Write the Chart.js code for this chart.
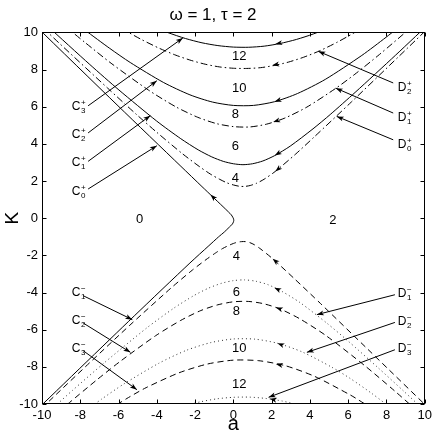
<!DOCTYPE html>
<html><head><meta charset="utf-8">
<script src="https://cdn.jsdelivr.net/npm/chart.js@4/dist/chart.umd.min.js"></script>
<style>html,body{margin:0;padding:0;background:#fff}</style>
</head><body>
<canvas id="c" width="436" height="436"></canvas>
<script>
// ---- tick labels ----
const xTickValues = [-10,-8,-6,-4,-2,0,2,4,6,8,10];
const yTickValues = [-10,-8,-6,-4,-2,0,2,4,6,8,10];

// ---- curves, [a, K] points ----
// solid (C+)
const curveC0 = [[-10.93,-10.97],[-5.18,-5.26],[-2.27,-2.41],[-1.28,-1.48],[-0.78,-1.01],[-0.47,-0.74],[-0.28,-0.55],[-0.14,-0.41],[-0.05,-0.31],[0,-0.21],[0.02,-0.13],[0.01,-0.04],[-0.03,0.05],[-0.11,0.18],[-0.26,0.34],[-0.54,0.62],[-1.09,1.16],[-1.64,1.70],[-2.74,2.79],[-6.03,6.05],[-10.39,10.41]];
const curveC1 = [[12.64,12.84],[10.57,10.81],[8.48,8.78],[6.36,6.77],[5.06,5.58],[4.16,4.81],[2.97,3.88],[2.16,3.37],[1.54,3.08],[1.00,2.93],[0.50,2.88],[0,2.93],[-0.53,3.06],[-1.13,3.30],[-1.84,3.68],[-2.75,4.28],[-4.01,5.23],[-5.98,6.90],[-7.50,8.27],[-9.72,10.35],[-11.66,12.19]];
const curveC2 = [[10.40,11.77],[9.60,11.09],[8.58,10.23],[7.98,9.74],[6.71,8.76],[4.80,7.47],[3.35,6.71],[2.15,6.27],[1.05,6.07],[0,6.07],[-1.09,6.25],[-2.27,6.64],[-3.66,7.31],[-5.39,8.38],[-6.46,9.14],[-7.75,10.12],[-8.67,10.85]];
const curveC3 = [[6.24,10.87],[5.17,10.33],[4.19,9.92],[3.29,9.62],[2.43,9.40],[1.61,9.26],[0.80,9.20],[0,9.21],[-0.81,9.29],[-1.64,9.44],[-2.50,9.67],[-3.42,9.99],[-4.40,10.40]];
// dash-dot (D+)
const curveD0 = [[-11.60,11.86],[-9.82,10.12],[-9.11,9.43],[-6.58,7.01],[-5.05,5.57],[-4.00,4.62],[-2.65,3.46],[-1.79,2.79],[-1.18,2.36],[-0.71,2.09],[-0.33,1.90],[0,1.79],[0.30,1.72],[0.59,1.71],[0.88,1.76],[1.21,1.88],[1.61,2.10],[2.19,2.52],[3.23,3.43],[4.22,4.37],[6.17,6.26],[8.64,8.70],[11.93,11.97]];
const curveD1 = [[-9.44,10.90],[-8.35,9.96],[-7.72,9.43],[-6.39,8.34],[-4.43,6.89],[-3.00,5.99],[-1.86,5.43],[-0.88,5.09],[0,4.93],[0.85,4.91],[1.73,5.06],[2.69,5.39],[3.84,5.98],[5.35,6.99],[6.35,7.75],[7.63,8.81],[9.35,10.32],[10.23,11.11]];
const curveD2 = [[-5.86,10.22],[-4.81,9.62],[-3.86,9.14],[-3.00,8.77],[-2.20,8.49],[-1.44,8.28],[-0.71,8.14],[0,8.07],[0.70,8.06],[1.41,8.10],[2.13,8.22],[2.87,8.40],[3.66,8.66],[4.51,9.01],[5.44,9.48],[6.48,10.08],[7.17,10.52]];
// dashed (C-)
const curveL1 = [[11.39,-11.41],[7.02,-7.05],[4.56,-4.60],[3.18,-3.25],[2.05,-2.18],[1.44,-1.67],[1.10,-1.43],[0.85,-1.31],[0.63,-1.26],[0.43,-1.26],[0.22,-1.29],[0,-1.36],[-0.25,-1.47],[-0.56,-1.63],[-0.93,-1.87],[-1.43,-2.23],[-2.14,-2.79],[-3.26,-3.76],[-5.40,-5.75],[-7.50,-7.77],[-9.58,-9.80],[-11.65,-11.83]];
const curveL2 = [[11.91,-12.52],[10.68,-11.37],[9.66,-10.42],[8.43,-9.30],[6.88,-7.95],[4.84,-6.32],[3.48,-5.42],[2.45,-4.89],[1.57,-4.60],[0.78,-4.48],[0,-4.50],[-0.81,-4.66],[-1.70,-4.97],[-2.75,-5.50],[-4.07,-6.33],[-5.88,-7.68],[-7.11,-8.68],[-8.70,-10.04],[-9.48,-10.73]];
const curveL3 = [[10.22,-12.48],[8.59,-11.21],[7.75,-10.60],[7.25,-10.25],[6.55,-9.79],[6.12,-9.52],[4.26,-8.52],[2.72,-7.94],[1.33,-7.67],[0,-7.64],[-1.36,-7.85],[-2.84,-8.32],[-4.56,-9.12],[-5.56,-9.70],[-6.70,-10.43]];
// dotted (D-)
const curveM1 = [[-10.90,-11.60],[-9.29,-10.09],[-8.42,-9.28],[-6.72,-7.76],[-4.52,-5.90],[-3.11,-4.84],[-2.09,-4.18],[-1.29,-3.76],[-0.61,-3.50],[0,-3.36],[0.58,-3.32],[1.16,-3.39],[1.79,-3.57],[2.52,-3.93],[3.48,-4.54],[4.91,-5.67],[5.98,-6.60],[7.54,-8.03],[8.89,-9.30],[10.08,-10.44]];
const curveM2 = [[-8.27,-10.79],[-7.41,-10.13],[-6.89,-9.74],[-5.75,-8.94],[-3.90,-7.81],[-2.43,-7.10],[-1.16,-6.69],[0,-6.50],[1.13,-6.51],[2.30,-6.73],[3.60,-7.20],[5.16,-8.03],[6.11,-8.63],[7.23,-9.43],[8.59,-10.49]];
const curveM3 = [[-4.60,-10.88],[-3.57,-10.44],[-2.62,-10.12],[-1.71,-9.88],[-0.85,-9.72],[0,-9.64],[0.84,-9.63],[1.68,-9.70],[2.55,-9.84],[3.45,-10.07],[4.39,-10.40]];

// ---- region labels: [text, a, K] ----
const regionLabels = [["0",-4.9,-0.05],["2",5.2,-0.12],
  ["12",0.3,8.69],["10",0.3,7.0],["8",0.1,5.57],["6",0.1,3.86],["4",0.1,2.16],
  ["4",0.15,-2.06],["6",0.15,-4.0],["8",0.15,-5.02],["10",0.3,-6.99],["12",0.3,-8.96]];

// ---- annotated arrows: [letter, sub, sup, labelA, labelK, startA, startK, endA, endK] ----
const arrowNotes = [
  ["C","3","+",-8.44,6.02,-7.59,6.05,-2.64,9.70],
  ["C","2","+",-8.44,4.49,-7.59,4.59,-4.00,7.40],
  ["C","1","+",-8.44,2.97,-7.59,3.06,-4.34,5.52],
  ["C","0","+",-8.44,1.44,-7.59,1.57,-4.00,3.90],
  ["C","1","\u2212",-8.44,-4.03,-7.85,-4.17,-5.28,-5.46],
  ["C","2","\u2212",-8.44,-5.52,-7.85,-5.64,-5.38,-7.22],
  ["C","3","\u2212",-8.44,-7.04,-7.85,-7.13,-5.04,-9.23],
  ["D","2","+",8.59,7.0,8.35,7.28,4.44,8.98],
  ["D","1","+",8.59,5.39,8.35,5.66,5.35,7.0],
  ["D","0","+",8.59,3.96,8.35,4.22,5.40,5.48],
  ["D","1","\u2212",8.59,-4.08,8.44,-4.12,4.36,-5.19],
  ["D","2","\u2212",8.59,-5.57,8.44,-5.61,3.84,-7.22],
  ["D","3","\u2212",8.59,-7.04,8.44,-7.08,1.84,-9.64]
];

// ---- direction heads on the curves: [tipA, tipK, fromA, fromK] ----
const flowHeads = [
  [2.19,9.38,2.9,9.52],[2.03,8.23,2.7,8.36],[2.15,6.27,2.8,6.5],[2.08,5.18,2.7,5.39],
  [2.16,3.37,2.97,3.88],[2.19,2.52,2.8,3.05],[-1.2,1.27,-0.8,0.87],
  [2.05,-2.18,2.7,-2.75],[2.14,-3.74,2.8,-4.08],[2.22,-4.81,2.9,-5.05],
  [2.3,-6.73,2.9,-6.97],[2.22,-7.85,2.9,-8.0],[1.9,-9.72,2.6,-9.88]
];

const SOLID = [], DASHDOT = [7,3,1.5,3], DASHED = [6,4], DOTTED = [1,3];
function ds(pts, dash, color){
  return {data: pts.map(p=>({x:p[0],y:p[1]})), showLine:true, pointRadius:0, borderColor: color||'#000',
    borderWidth:1, borderDash:dash, tension:0.25, fill:false};
}
const FONT = "'Liberation Sans', Arial, sans-serif";
const NFONT = "'Liberation Sans Narrow', 'Liberation Sans', Arial, sans-serif";

function headAt(ctx, x1,y1,x2,y2,len,hw){
  const ang=Math.atan2(y2-y1,x2-x1), c=Math.cos(ang), s=Math.sin(ang);
  ctx.beginPath(); ctx.moveTo(x2,y2);
  ctx.lineTo(x2-len*c+hw*s, y2-len*s-hw*c);
  ctx.lineTo(x2-len*c*0.75, y2-len*s*0.75);
  ctx.lineTo(x2-len*c-hw*s, y2-len*s+hw*c);
  ctx.closePath(); ctx.fill();
}

const decor = {
  id:'decor',
  afterDatasetsDraw(chart){
    const ctx=chart.ctx, ca=chart.chartArea, xs=chart.scales.x, ys=chart.scales.y;
    const px=a=>xs.getPixelForValue(a), py=k=>ys.getPixelForValue(k);
    ctx.save();
    ctx.strokeStyle='#000'; ctx.fillStyle='#000'; ctx.lineWidth=1; ctx.setLineDash([]);
    const L=Math.round(ca.left)+0.5, R=Math.round(ca.right)-0.5, T=Math.round(ca.top)+0.5, B=Math.round(ca.bottom)-0.5;
    ctx.strokeRect(L,T,R-L,B-T);
    ctx.beginPath();
    xTickValues.forEach(v=>{const x=Math.round(px(v))+0.5; ctx.moveTo(x,B); ctx.lineTo(x,B-4); ctx.moveTo(x,T); ctx.lineTo(x,T+4);});
    yTickValues.forEach(v=>{const y=Math.round(py(v))+0.5; ctx.moveTo(L,y); ctx.lineTo(L+4,y); ctx.moveTo(R,y); ctx.lineTo(R-4,y);});
    ctx.stroke();
    // region labels
    ctx.font='13px '+NFONT; ctx.textAlign='center'; ctx.textBaseline='middle';
    regionLabels.forEach(([t,a,k])=>ctx.fillText(t,px(a),py(k)));
    // annotated arrows
    arrowNotes.forEach(([lt,sub,sup,la,lk,sa,sk,ea,ek])=>{
      const x=px(la), y=py(lk);
      ctx.textAlign='left'; ctx.textBaseline='middle';
      ctx.font='12px '+NFONT; ctx.fillText(lt,x,y);
      const w=ctx.measureText(lt).width;
      ctx.font='8px '+NFONT; ctx.fillText(sup,x+w+0.5,y-4); ctx.fillText(sub,x+w+0.5,y+4);
      const x1=px(sa),y1=py(sk),x2=px(ea),y2=py(ek);
      ctx.beginPath(); ctx.moveTo(x1,y1); ctx.lineTo(x2,y2); ctx.stroke();
      headAt(ctx,x1,y1,x2,y2,7,2.5);
    });
    flowHeads.forEach(([ta,tk,fa,fk])=>headAt(ctx,px(fa),py(fk),px(ta),py(tk),7,2.5));
    ctx.restore();
  }
};

new Chart(document.getElementById('c'), {
  type:'scatter',
  data:{datasets:[
    ds(curveC0,SOLID), ds(curveC1,SOLID), ds(curveC2,SOLID), ds(curveC3,SOLID),
    ds(curveD0,DASHDOT), ds(curveD1,DASHDOT), ds(curveD2,DASHDOT),
    ds(curveL1,DASHED), ds(curveL2,DASHED), ds(curveL3,DASHED),
    ds(curveM1,DOTTED,'#333'), ds(curveM2,DOTTED,'#333'), ds(curveM3,DOTTED,'#333')
  ]},
  options:{
    responsive:false, animation:false, devicePixelRatio:1,
    layout:{padding:{left:0,right:10,top:0,bottom:0}},
    plugins:{legend:{display:false}, tooltip:{enabled:false},
      title:{display:true, text:'\u03c9 = 1, \u03c4 = 2', color:'#000', font:{size:17, family:FONT, weight:'normal'}, padding:{top:5,bottom:7}}},
    scales:{
      x:{type:'linear', min:-10, max:10,
        afterBuildTicks:s=>{s.ticks=xTickValues.map(v=>({value:v}));},
        ticks:{color:'#000', font:{size:13, family:NFONT}, padding:4, maxRotation:0, autoSkip:false},
        grid:{display:false, drawTicks:false}, border:{display:false},
        title:{display:true, text:'a', color:'#000', font:{size:20, family:FONT}, padding:{top:0,bottom:0}},
        afterFit:s=>{s.height=32;}},
      y:{type:'linear', min:-10, max:10,
        afterBuildTicks:s=>{s.ticks=yTickValues.map(v=>({value:v}));},
        ticks:{color:'#000', font:{size:13, family:NFONT}, padding:4, autoSkip:false},
        grid:{display:false, drawTicks:false}, border:{display:false},
        title:{display:true, text:'K', color:'#000', font:{size:19, family:FONT}, padding:{top:1,bottom:0}},
        afterFit:s=>{s.width=42;}}
    }
  },
  plugins:[decor]
});
</script>
</body></html>
